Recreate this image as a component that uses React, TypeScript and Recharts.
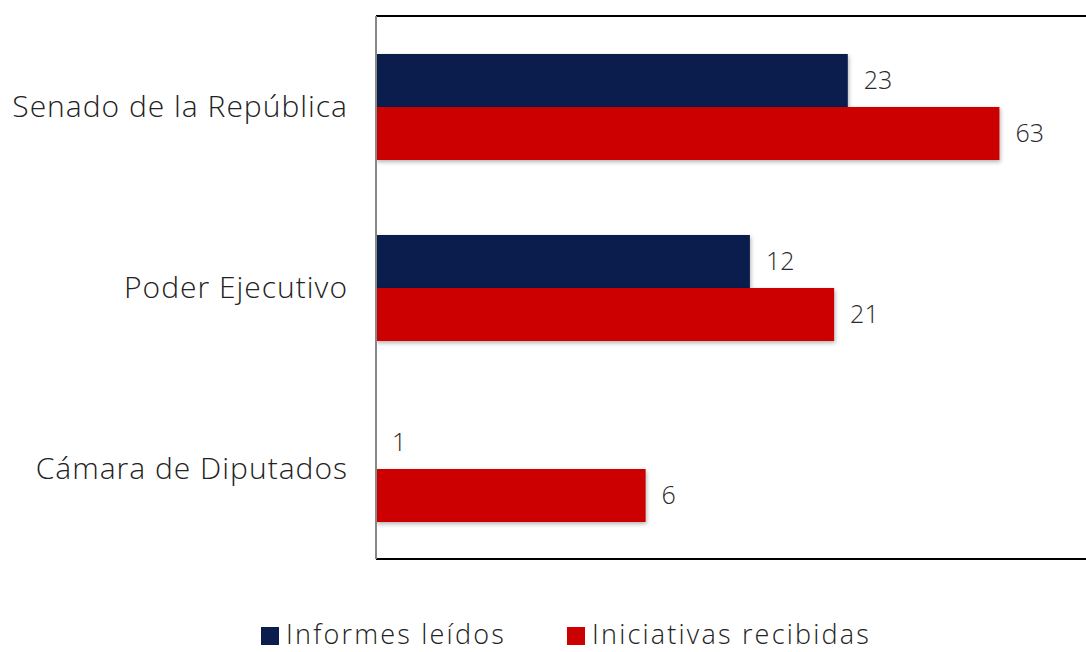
import { BarChart, Bar, XAxis, YAxis, LabelList } from "recharts"

const categories = ["Senado de la República", "Poder Ejecutivo", "Cámara de Diputados"]
const informesLeidos = [23, 12, 1]
const iniciativasRecibidas = [63, 21, 6]

const seriesNames = ["Informes leídos", "Iniciativas recibidas"]
const seriesColors = ["#0a1d4d", "#cc0000"]
// legend x positions (square, text) as in the original layout
const legendLeft = [261, 567]

const FONT = "'Open Sans', Lato, sans-serif"

// shadowed bar, like the office export
const ShadowBar = (props: any) => {
  const { x, y, width, height, fill } = props
  if (!width || width <= 0) return null
  return (
    <rect
      x={x}
      y={y}
      width={width}
      height={height}
      fill={fill}
      style={{ filter: "drop-shadow(1px 2px 2px rgba(0,0,0,0.3))" }}
    />
  )
}

const labelStyle = { fontSize: 25, fill: "#2a2a2a", fontFamily: FONT, fontWeight: 300 }

export default function App() {
  const data = categories.map((name, i) => ({
    name,
    informes: informesLeidos[i],
    iniciativas: iniciativasRecibidas[i],
  }))

  return (
    <div style={{ position: "absolute", left: 0, top: 0, width: 1086, height: 652, overflow: "hidden", background: "#fff", fontFamily: FONT }}>
      <BarChart
        width={1086}
        height={652}
        data={data}
        layout="vertical"
        margin={{ top: 15, right: 0, bottom: 92, left: 0 }}
        barCategoryGap={38}
        barGap={0}
      >
        <XAxis type="number" scale="log" domain={[1, 112]} allowDataOverflow tick={false} tickLine={false} axisLine={{ stroke: "#000", strokeWidth: 2 }} height={1} />
        <XAxis xAxisId="top" orientation="top" type="number" scale="log" domain={[1, 112]} allowDataOverflow tick={false} tickLine={false} axisLine={{ stroke: "#000", strokeWidth: 2 }} height={1} />
        <YAxis
          type="category"
          dataKey="name"
          width={376}
          axisLine={{ stroke: "#888", strokeWidth: 2 }}
          tickLine={false}
          tickSize={0}
          tickMargin={28}
          tick={{ fontSize: 30, fill: "#222", fontFamily: FONT, fontWeight: 300, letterSpacing: 1 }}
        />
        <Bar dataKey="informes" name={seriesNames[0]} fill={seriesColors[0]} shape={ShadowBar} isAnimationActive={false}>
          <LabelList dataKey="informes" position="right" offset={16} style={labelStyle} />
        </Bar>
        <Bar dataKey="iniciativas" name={seriesNames[1]} fill={seriesColors[1]} shape={ShadowBar} isAnimationActive={false}>
          <LabelList dataKey="iniciativas" position="right" offset={16} style={labelStyle} />
        </Bar>
      </BarChart>
      {seriesNames.map((n, i) => (
        <div key={n}>
          <span style={{ position: "absolute", left: legendLeft[i], top: 627, width: 18, height: 18, background: seriesColors[i] }} />
          <span style={{ position: "absolute", left: legendLeft[i] + 25, top: 620, fontSize: 27, lineHeight: "27px", fontWeight: 300, letterSpacing: 2.2, color: "#222", whiteSpace: "nowrap" }}>{n}</span>
        </div>
      ))}
    </div>
  )
}
